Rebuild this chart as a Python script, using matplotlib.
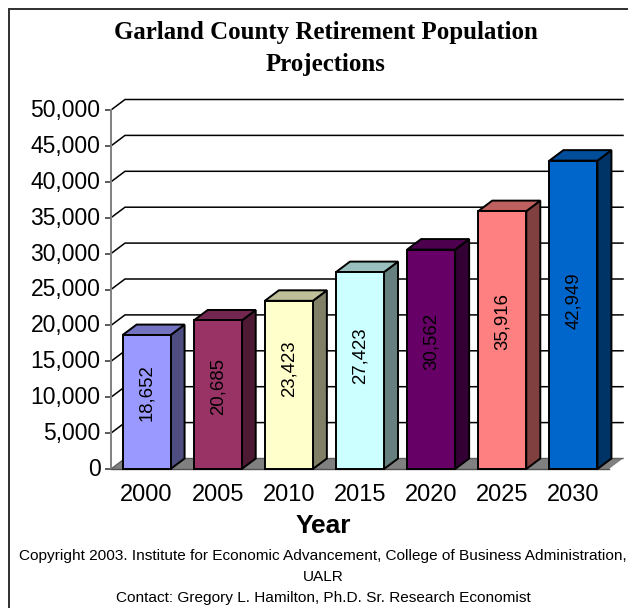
#!/usr/bin/env python3
# Garland County retirement population projections, drawn as a pseudo-3D column chart.

import matplotlib
matplotlib.use('Agg')
import matplotlib.pyplot as plt
from matplotlib.patches import Polygon, Rectangle
from matplotlib.transforms import ScaledTranslation

years = ['2000', '2005', '2010', '2015', '2020', '2025', '2030']
population = [18652, 20685, 23423, 27423, 30562, 35916, 42949]
yticks = [0, 5000, 10000, 15000, 20000, 25000, 30000, 35000, 40000, 45000, 50000]

front_colors = ['#9999ff', '#993366', '#ffffcc', '#ccffff', '#660066', '#ff8080', '#0066cc']
top_colors = ['#7373bf', '#732650', '#bfbf99', '#99bfbf', '#4d004d', '#bf6060', '#004d99']
side_colors = ['#4d4d80', '#4d1933', '#808066', '#668080', '#330033', '#804040', '#003366']

# how far each value label sits above the middle of its column, in points
label_lift = [6.5, 6, 11.5, 11, 13, 13.5, 10]

W, H = 628, 608
plt.rcParams['font.family'] = ['Liberation Sans', 'DejaVu Sans']

fig = plt.figure(figsize=(W/100, H/100), dpi=100)

# outer frame of the chart area
fig.add_artist(Rectangle((9/W, -0.01), (W-9)/W + 0.01, 1 - 9/H + 0.01, transform=fig.transFigure,
                         fill=False, ec='#303030', lw=1.4))

# axes cover the front plane of the columns
ax = fig.add_axes([111/W, 1-469/H, 498/W, 359/H])
ax.set_xlim(-0.5, 6.5)
ax.set_ylim(0, 50000)
ax.patch.set_visible(False)

dx = 14/498*7    # depth offset in category units
dy = 10.5/359*50000
bw = 0.675

# floor
ax.add_patch(Polygon([(-0.5, 0), (-0.5+dx, dy), (6.5+dx, dy), (6.5, 0)], closed=True,
                     fc='#808080', ec='none', clip_on=False, zorder=1))

# gridlines on the back wall with their returns to the axis
for t in yticks[1:]:
    ax.plot([-0.5, -0.5+dx, 6.5+dx], [t, t+dy, t+dy], color='k', lw=1.1,
            clip_on=False, zorder=1.5, solid_joinstyle='miter')
ax.plot([-0.5, -0.5+dx, 6.5+dx], [0, dy, dy], color='#606060', lw=1.0,
        clip_on=False, zorder=1.5)

for i, v in enumerate(population):
    l, r = i-bw/2, i+bw/2
    ax.add_patch(Polygon([(r, 0), (r+dx, dy), (r+dx, v+dy), (r, v)], closed=True,
                         fc=side_colors[i], ec='k', lw=1.4, clip_on=False, zorder=3))
    ax.add_patch(Polygon([(l, v), (l+dx, v+dy), (r+dx, v+dy), (r, v)], closed=True,
                         fc=top_colors[i], ec='k', lw=1.4, clip_on=False, zorder=3))
    ax.bar(i, v, width=bw, color=front_colors[i], edgecolor='k', linewidth=1.4, zorder=4,
           clip_on=False)
    ax.annotate(f'{v:,}', (i, v/2), xytext=(0.3, label_lift[i]), textcoords='offset points',
                rotation=90, ha='center', va='center', fontsize=13.4, color='k', zorder=5)

for s in ['top', 'right']:
    ax.spines[s].set_visible(False)
ax.spines['bottom'].set_color('#505050')
ax.spines['bottom'].set_linewidth(1.0)
ax.spines['bottom'].set_zorder(2)
ax.spines['left'].set_color('#808080')
ax.spines['left'].set_linewidth(1.4)
ax.spines['left'].set_zorder(2)

ax.set_yticks(yticks)
ax.set_yticklabels([f'{t:,}' for t in yticks], fontsize=16.5)
ax.set_xticks(range(len(years)))
ax.set_xticklabels(years, fontsize=17)
ax.tick_params(axis='y', length=4, width=1.2, color='#404040', pad=3.5)
ax.tick_params(axis='x', length=0, pad=10.5)

# y labels sit a little above their ticks
lift = ScaledTranslation(0, 1.5/72, fig.dpi_scale_trans)
for lab in ax.get_yticklabels():
    lab.set_transform(lab.get_transform() + lift)

fig.text(326/W, 1-33/H, 'Garland County Retirement Population', family=['Liberation Serif'],
         weight='bold', fontsize=17.9, ha='center', va='center')
fig.text(325/W, 1-65/H, 'Projections', family=['Liberation Serif'],
         weight='bold', fontsize=17.9, ha='center', va='center')
fig.text(323/W, 1-526/H, 'Year', weight='bold', fontsize=19, ha='center', va='center')

fig.text(323/W, 1-556/H, 'Copyright 2003. Institute for Economic Advancement, College of Business Administration,',
         fontsize=11.1, ha='center', va='center')
fig.text(323/W, 1-577/H, 'UALR', fontsize=11.1, ha='center', va='center')
fig.text(323/W, 1-598/H, 'Contact: Gregory L. Hamilton, Ph.D. Sr. Research Economist',
         fontsize=11.1, ha='center', va='center')

plt.savefig('out.png', dpi=100)
